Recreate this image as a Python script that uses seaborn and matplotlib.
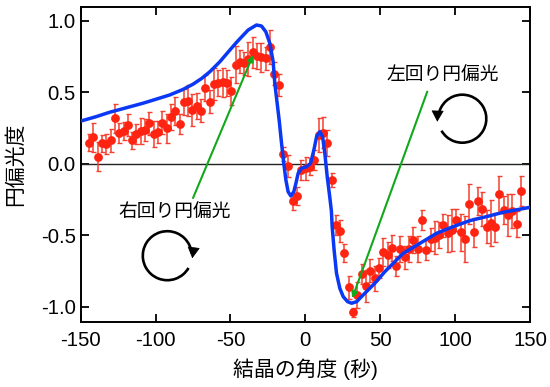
import matplotlib
matplotlib.use('Agg')
import matplotlib.pyplot as plt
import seaborn as sns
from matplotlib.patches import Arc
from matplotlib.transforms import IdentityTransform

sns.set_style('ticks')
plt.rcParams['font.family'] = ['Liberation Sans', 'Noto Sans CJK JP']
plt.rcParams['axes.unicode_minus'] = False
plt.rcParams['text.color'] = 'black'
plt.rcParams['axes.labelcolor'] = 'black'
plt.rcParams['axes.edgecolor'] = 'black'
plt.rcParams['xtick.color'] = 'black'
plt.rcParams['ytick.color'] = 'black'

angle = [-144.4, -141.5, -138.6, -135.8, -132.9, -130.0, -127.1, -124.3, -121.4, -118.5,
         -115.6, -112.8, -109.9, -107.0, -104.1, -101.3, -98.4, -95.5, -92.6, -89.8,
         -86.9, -84.0, -81.1, -78.3, -75.4, -72.5, -69.6, -66.8, -63.9, -61.0,
         -58.1, -55.2, -52.4, -49.5, -46.6, -43.7, -40.9, -38.0, -35.1, -32.2,
         -29.4, -26.5, -23.6, -20.7, -17.9, -15.0, -11.9, -8.4, -5.5, -2.6,
         0.2, 3.1, 6.0, 8.9, 11.7, 14.6, 17.5, 20.4, 23.2, 26.1,
         29.0, 31.9, 34.7, 37.6, 40.5, 43.4, 46.2, 49.1, 52.0, 54.9,
         57.7, 60.6, 63.5, 66.4, 69.2, 72.1, 75.0, 77.9, 80.7, 83.6,
         86.5, 89.4, 92.2, 95.1, 98.0, 100.9, 103.7, 106.6, 109.5, 112.4,
         115.2, 118.1, 121.0, 123.9, 126.7, 129.6, 132.5, 135.4, 138.2, 141.1, 144.0]
cpl = [0.149, 0.187, 0.051, 0.145, 0.137, 0.166, 0.319, 0.215, 0.231, 0.273,
       0.166, 0.21, 0.231, 0.238, 0.285, 0.208, 0.224, 0.289, 0.25, 0.327,
       0.371, 0.282, 0.431, 0.443, 0.378, 0.406, 0.371, 0.531, 0.436, 0.559,
       0.564, 0.571, 0.564, 0.51, 0.695, 0.716, 0.704, 0.732, 0.781, 0.757,
       0.746, 0.739, 0.816, 0.631, 0.552, 0.068, -0.014, -0.26, -0.224, -0.042,
       -0.03, -0.02, 0.028, 0.203, 0.219, 0.145, -0.114, -0.427, -0.469,
       -0.622, -0.862, -1.037, -0.918, -0.769, -0.853, -0.746, -0.8, -0.725, -0.615,
       -0.636, -0.587, -0.713, -0.597, -0.653, -0.592, -0.531, -0.594, -0.392, -0.601,
       -0.527, -0.515, -0.499, -0.429, -0.485, -0.462, -0.392, -0.478, -0.524, -0.282,
       -0.478, -0.259, -0.315, -0.438, -0.415, -0.443, -0.212, -0.322, -0.357, -0.327, -0.42, -0.191]
err = [0.06, 0.1, 0.1, 0.06, 0.07, 0.08, 0.1, 0.07, 0.06, 0.08,
       0.06, 0.07, 0.09, 0.08, 0.08, 0.09, 0.08, 0.08, 0.1, 0.09,
       0.1, 0.07, 0.09, 0.11, 0.11, 0.09, 0.08, 0.09, 0.08, 0.11,
       0.09, 0.1, 0.09, 0.1, 0.13, 0.08, 0.08, 0.12, 0.11, 0.09,
       0.1, 0.08, 0.12, 0.08, 0.08, 0.05, 0.08, 0.06, 0.06, 0.07,
       0.08, 0.06, 0.07, 0.12, 0.11, 0.09, 0.05, 0.07, 0.08,
       0.06, 0.08, 0.03, 0.09, 0.07, 0.11, 0.08, 0.09, 0.07, 0.1,
       0.09, 0.09, 0.07, 0.09, 0.08, 0.09, 0.09, 0.09, 0.07, 0.07,
       0.08, 0.115, 0.09, 0.08, 0.13, 0.15, 0.08, 0.13, 0.16, 0.14,
       0.1, 0.1, 0.12, 0.115, 0.16, 0.1, 0.13, 0.1, 0.15, 0.12, 0.09, 0.105]

fit_x = [-150, -140, -130.6, -120, -108.4, -100, -90.5, -82, -75, -69, -63.8, -57.1, -50.4, -46, -43.8, -38.2,
         -32.6, -29.3, -26.4, -23.7, -21.5, -20.4, -17.5, -15.9, -14.4, -13, -11.5, -9.7, -7.7, -6.3, -4.8, -2.5,
         0.8, 3.5, 5.7, 7.5, 9.7, 11.5, 13, 14.6, 16.4, 17.4, 17.9, 19.2, 20.8, 23, 25.3, 28.2, 30.9, 34.2, 38.6,
         46.4, 53.1, 65.3, 76.5, 87.6, 98.7, 109.9, 121, 132.1, 150]
fit_y = [0.30, 0.33, 0.362, 0.392, 0.425, 0.452, 0.483, 0.52, 0.558, 0.60, 0.645, 0.715, 0.797, 0.85, 0.875, 0.937,
         0.972, 0.965, 0.925, 0.844, 0.715, 0.564, 0.308, 0.145, 0.005, -0.112, -0.194, -0.224, -0.194, -0.135,
         -0.065, -0.03, -0.019, 0.005, 0.098, 0.191, 0.226, 0.191, 0.075, -0.089, -0.24, -0.33, -0.438, -0.601,
         -0.764, -0.869, -0.928, -0.963, -0.974, -0.963, -0.916, -0.834, -0.753, -0.625, -0.555, -0.485, -0.438,
         -0.396, -0.368, -0.338, -0.303]

fig = plt.figure(figsize=(5.5, 3.87), dpi=100)
ax = fig.add_axes([80.7 / 550, 1 - 321.7 / 387, (530 - 80.7) / 550, (321.7 - 6.7) / 387])

ax.axhline(0, color='#222222', lw=1.0, zorder=1)
ax.errorbar(angle, cpl, yerr=err, fmt='none', ecolor='#F4402F', elinewidth=1.1,
            capsize=1.8, capthick=1.0, zorder=2)
sns.scatterplot(x=angle, y=cpl, color='#FF2412', s=40, linewidth=0, ax=ax, zorder=3)
sns.lineplot(x=fit_x, y=fit_y, color='#0A38F5', lw=2.5, errorbar=None, sort=False, ax=ax, zorder=4)

# green pointers
green = dict(arrowstyle='-|>', color='#12A81C', lw=1.5, mutation_scale=9, shrinkA=0, shrinkB=0)
ax.annotate('', xy=(-34.9, 0.762), xytext=(-75, -0.238), arrowprops=green, zorder=5)
ax.annotate('', xy=(31.3, -0.939), xytext=(81.4, 0.506), arrowprops=green, zorder=5)

# rotation circles, in pixels so they stay round
px = IdentityTransform()
ax.add_patch(Arc((167.3, 387 - 255.7), 49, 49, theta1=5, theta2=330, color='black', lw=1.9, transform=px, zorder=5))
ax.add_patch(Arc((462.3, 387 - 118.7), 48, 48, theta1=210, theta2=172, color='black', lw=1.9, transform=px, zorder=5))
head = dict(arrowstyle='-|>,head_length=0.45,head_width=0.25', color='black', lw=0.5,
            mutation_scale=16, shrinkA=0, shrinkB=0)
ax.annotate('', xy=(192.3, 387 - 258.3), xytext=(193.5, 387 - 249), xycoords='figure pixels',
            textcoords='figure pixels', arrowprops=head, zorder=6)
ax.annotate('', xy=(437.3, 387 - 121.7), xytext=(437.6, 387 - 112), xycoords='figure pixels',
            textcoords='figure pixels', arrowprops=head, zorder=6)

ax.text(-87.4, -0.34, '右回り円偏光', fontsize=13.5, ha='center', va='center')
ax.text(92, 0.622, '左回り円偏光', fontsize=13.5, ha='center', va='center')

ax.set_xlim(-150, 150)
ax.set_ylim(-1.103, 1.1)
ax.set_xticks([-150, -100, -50, 0, 50, 100, 150])
ax.set_yticks([-1.0, -0.5, 0.0, 0.5, 1.0])
ax.tick_params(direction='in', top=True, right=True, length=5.5, width=1.3, labelsize=14.7, pad=3.5)
ax.tick_params(axis='x', pad=7)
for s in ax.spines.values():
    s.set_visible(True)
    s.set_linewidth(1.4)
ax.set_xlabel('結晶の角度 (秒)', fontsize=15, labelpad=6)
ax.set_ylabel('円偏光度', fontsize=15, labelpad=11)

fig.savefig('out.png', dpi=100)
